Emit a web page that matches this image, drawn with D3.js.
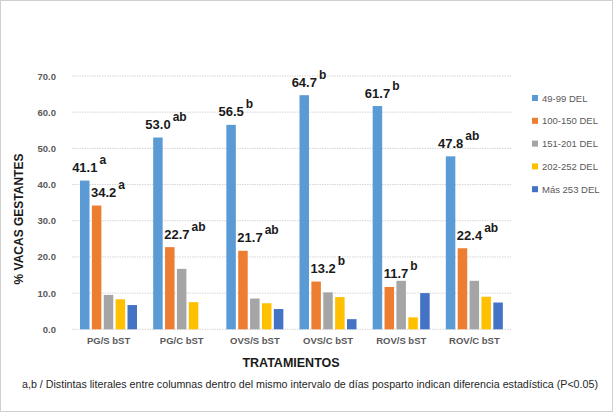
<!DOCTYPE html>
<html>
<head>
<meta charset="utf-8">
<script src="https://cdn.jsdelivr.net/npm/d3@7"></script>
<style>
  body { margin: 0; background: #fff; }
  text { font-family: "Liberation Sans", Arial, sans-serif; }
</style>
</head>
<body>
<div id="chart"></div>
<script>
// treatments and day-interval series
var tratamientos = ["PG/S bST", "PG/C bST", "OVS/S bST", "OVS/C bST", "ROV/S bST", "ROV/C bST"]
var series = ["49-99 DEL", "100-150 DEL", "151-201 DEL", "202-252 DEL", "Más 253 DEL"]
var colores = ["#5B9BD5", "#ED7D31", "#A5A5A5", "#FFC000", "#4472C4"]

var del49 = [41.1, 53.0, 56.5, 64.7, 61.7, 47.8]
var del100 = [34.2, 22.7, 21.7, 13.2, 11.7, 22.4]
var del151 = [9.5, 16.7, 8.5, 10.2, 13.4, 13.4]
var del202 = [8.3, 7.5, 7.2, 8.9, 3.3, 9.0]
var del253 = [6.7, 0, 5.6, 2.8, 10.0, 7.4]

var letras49 = ["a", "ab", "b", "b", "b", "ab"]
var letras100 = ["a", "ab", "ab", "b", "b", "ab"]

var yTicks = [0, 10, 20, 30, 40, 50, 60, 70]

var valores = [del49, del100, del151, del202, del253]

var svg = d3.select("#chart").append("svg")
    .attr("width", 615).attr("height", 414)

// outer frame
svg.append("rect")
    .attr("x", 0.5).attr("y", 0.5)
    .attr("width", 612).attr("height", 411)
    .attr("fill", "#fff").attr("stroke", "#d0d0d0")

var x0 = d3.scaleBand().domain(tratamientos).range([72, 511])
var x1 = d3.scaleBand().domain(series).range([8, 65]).paddingInner(0.2)
var y = d3.scaleLinear().domain([0, 70]).range([329.3, 76])

// grid
svg.append("g").selectAll("line")
    .data(yTicks).enter()
    .append("line")
    .attr("x1", 72).attr("x2", 511)
    .attr("y1", function(d) { return y(d) }).attr("y2", function(d) { return y(d) })
    .attr("stroke", "#d4d4d4").attr("stroke-width", 1)
    .attr("stroke-dasharray", "1.5,1")

// y axis labels
var yAxis = d3.axisLeft(y).tickValues(yTicks).tickSize(0).tickPadding(0)
    .tickFormat(d3.format(".1f"))
var gy = svg.append("g").attr("transform", "translate(56,0)").call(yAxis)
gy.select(".domain").remove()
gy.selectAll("text")
    .attr("font-family", "Liberation Sans, Arial, sans-serif")
    .attr("font-size", "9.5px").attr("font-weight", "bold").attr("fill", "#595959")

// x axis labels
var xAxis = d3.axisBottom(x0).tickSize(0).tickPadding(0)
var gx = svg.append("g").attr("transform", "translate(0,337)").call(xAxis)
gx.select(".domain").remove()
gx.selectAll("text")
    .attr("font-family", "Liberation Sans, Arial, sans-serif")
    .attr("font-size", "9.5px").attr("font-weight", "bold").attr("fill", "#595959")

// bars
var grupos = svg.append("g").selectAll("g")
    .data(series).enter()
    .append("g")
    .attr("fill", function(d, i) { return colores[i] })

grupos.selectAll("rect")
    .data(function(s, si) {
        return tratamientos.map(function(t, ti) { return {t: t, s: s, v: valores[si][ti]} })
    })
    .enter()
    .append("rect")
    .attr("x", function(d) { return x0(d.t) + x1(d.s) })
    .attr("width", x1.bandwidth())
    .attr("y", function(d) { return y(d.v) })
    .attr("height", function(d) { return y(0) - y(d.v) })

// value labels with significance letters
function etiquetas(vals, letras, serie, shift) {
    var t = svg.append("g").selectAll("text")
        .data(vals).enter()
        .append("text")
        .attr("x", function(d, i) { return x0(tratamientos[i]) + x1(serie) + x1.bandwidth() / 2 + shift })
        .attr("y", function(d) { return y(d) - 8.5 })
        .attr("text-anchor", "start")
        .attr("font-size", "13px").attr("font-weight", "bold").attr("fill", "#1a1a1a")
    t.append("tspan")
        .attr("dx", "-12.6")
        .text(function(d) { return d.toFixed(1) })
    t.append("tspan")
        .attr("dx", 2).attr("dy", -8)
        .attr("font-size", "12px")
        .text(function(d, i) { return letras[i] })
}
etiquetas(del49, letras49, series[0], 0)
etiquetas(del100, letras100, series[1], 7)

// legend
var leg = svg.append("g").selectAll("g")
    .data(series).enter()
    .append("g")
    .attr("transform", function(d, i) { return "translate(532," + (98 + i * 22.8) + ")" })
leg.append("rect")
    .attr("x", 0).attr("y", -3).attr("width", 6).attr("height", 6)
    .attr("fill", function(d, i) { return colores[i] })
leg.append("text")
    .attr("x", 10).attr("y", 3.5)
    .attr("font-size", "9.5px").attr("fill", "#595959")
    .text(function(d) { return d })

// axis titles
svg.append("text")
    .attr("transform", "translate(23,219) rotate(-90)")
    .attr("text-anchor", "middle")
    .attr("font-size", "12px").attr("font-weight", "bold").attr("fill", "#1a1a1a")
    .text("% VACAS GESTANTES")

svg.append("text")
    .attr("x", 291).attr("y", 367)
    .attr("text-anchor", "middle")
    .attr("font-size", "12.5px").attr("font-weight", "bold").attr("fill", "#1a1a1a")
    .text("TRATAMIENTOS")

svg.append("text")
    .attr("x", 22).attr("y", 388)
    .attr("font-size", "10px").attr("fill", "#262626")
    .attr("textLength", 576).attr("lengthAdjust", "spacingAndGlyphs")
    .text("a,b / Distintas literales entre columnas dentro del mismo intervalo de días posparto indican diferencia estadística (P<0.05)")
</script>
</body>
</html>
